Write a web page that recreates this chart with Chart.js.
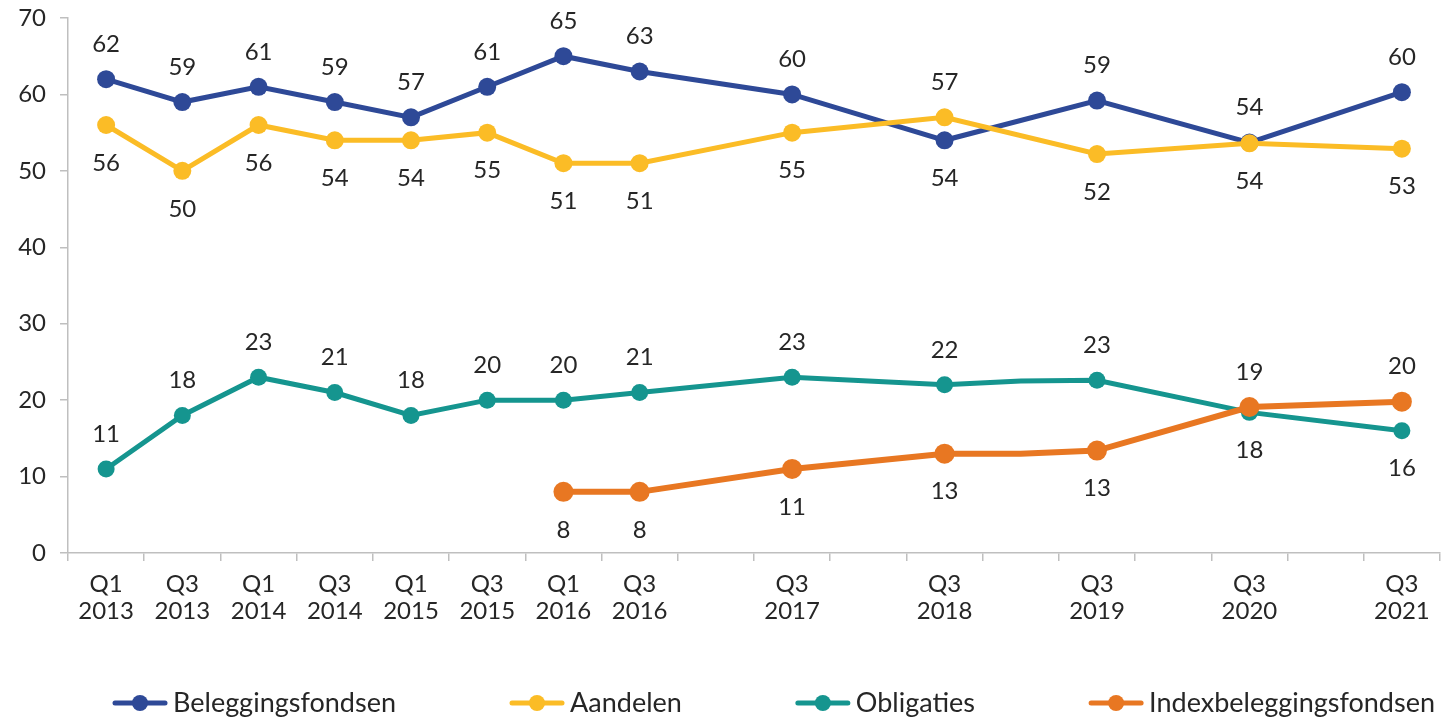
<!DOCTYPE html>
<html>
<head>
<meta charset="utf-8">
<script src="https://cdn.jsdelivr.net/npm/chart.js@4.4.0/dist/chart.umd.min.js"></script>
<style>
  html, body { margin: 0; padding: 0; background: #fff; }
  #wrap { width: 1456px; height: 718px; }
</style>
</head>
<body>
<div id="wrap"><canvas id="lineChart"></canvas></div>
<script>
// categorieën (lege plekken = tussenliggende kwartalen zonder label)
const categories = [
  ['Q1', '2013'], ['Q3', '2013'], ['Q1', '2014'], ['Q3', '2014'], ['Q1', '2015'], ['Q3', '2015'],
  ['Q1', '2016'], ['Q3', '2016'], '', ['Q3', '2017'], '', ['Q3', '2018'], '', ['Q3', '2019'],
  '', ['Q3', '2020'], '', ['Q3', '2021']
];
const beleggingsfondsen = [62, 59, 61, 59, 57, 61, 65, 63, null, 60, null, 54, null, 59.2, null, 53.7, null, 60.3];
const aandelen          = [56, 50, 56, 54, 54, 55, 51, 51, null, 55, null, 57, null, 52.2, null, 53.6, null, 52.9];
const obligaties        = [11, 18, 23, 21, 18, 20, 20, 21, null, 23, null, 22, 22.5, 22.6, null, 18.4, null, 16.0];
const indexfondsen      = [null, null, null, null, null, null, 8, 8, null, 11, null, 13, 13.0, 13.4, null, 19.1, null, 19.8];
const yTicks = [0, 10, 20, 30, 40, 50, 60, 70];

const textColor = '#262626';
const axisColor = '#BFBFBF';
const fontFamily = 'Lato, "Open Sans", sans-serif';

Chart.defaults.font.family = fontFamily;
Chart.defaults.font.size = 24;
Chart.defaults.color = textColor;

function radiusFor(r) {
  return ctx => (categories[ctx.dataIndex] === '' ? 0 : r);
}

function series(label, data, color, r, width, order) {
  return {
    label: label,
    data: data,
    borderColor: color,
    backgroundColor: color,
    borderWidth: width,
    pointRadius: radiusFor(r),
    pointHoverRadius: radiusFor(r),
    pointBorderWidth: 0,
    tension: 0,
    spanGaps: true,
    order: order
  };
}

// waarden bij de punten, boven of onder afhankelijk van de buurlijn
const pointLabels = {
  id: 'pointLabels',
  afterDatasetsDraw(chart) {
    const ctx = chart.ctx;
    const sets = chart.data.datasets;
    ctx.save();
    ctx.font = '24px ' + fontFamily;
    ctx.fillStyle = textColor;
    ctx.textAlign = 'center';
    ctx.textBaseline = 'middle';
    sets.forEach((ds, di) => {
      const meta = chart.getDatasetMeta(di);
      meta.data.forEach((pt, i) => {
        const v = ds.data[i];
        if (v === null || categories[i] === '') return;
        const near = sets
          .filter((d, k) => k !== di && d.data[i] !== null && Math.abs(d.data[i] - v) < 15)
          .map(d => d.data[i]);
        const above = near.every(w => v >= w);
        ctx.fillText(String(Math.round(v)), pt.x, pt.y + (above ? -35 : 38));
      });
    });
    ctx.restore();
  }
};

// legenda onderaan: lijn met bolletje, gelijk verdeeld
const lineLegend = {
  id: 'lineLegend',
  afterDraw(chart) {
    const ctx = chart.ctx;
    const left = 115, right = 1435, y = 703, glyph = 50, gap = 8;
    ctx.save();
    ctx.font = '27px ' + fontFamily;
    ctx.textBaseline = 'middle';
    ctx.textAlign = 'left';
    const items = chart.data.datasets.map(ds => ({
      ds: ds,
      w: glyph + gap + ctx.measureText(ds.label).width
    }));
    const total = items.reduce((s, it) => s + it.w, 0);
    const space = (right - left - total) / (items.length - 1);
    let x = left;
    items.forEach(it => {
      ctx.strokeStyle = it.ds.borderColor;
      ctx.lineWidth = 5;
      ctx.lineCap = 'round';
      ctx.beginPath();
      ctx.moveTo(x, y);
      ctx.lineTo(x + glyph, y);
      ctx.stroke();
      ctx.fillStyle = it.ds.borderColor;
      ctx.beginPath();
      ctx.arc(x + glyph / 2, y, 8, 0, Math.PI * 2);
      ctx.fill();
      ctx.fillStyle = textColor;
      ctx.fillText(it.ds.label, x + glyph + gap, y);
      x += it.w + space;
    });
    ctx.restore();
  }
};

const ctx = document.getElementById('lineChart').getContext('2d');
const lineChart = new Chart(ctx, {
  type: 'line',
  data: {
    labels: categories,
    datasets: [
      series('Beleggingsfondsen', beleggingsfondsen, '#2E4997', 9, 5, 4),
      series('Aandelen', aandelen, '#FBBC26', 9, 5, 3),
      series('Obligaties', obligaties, '#15958F', 8.5, 5, 2),
      series('Indexbeleggingsfondsen', indexfondsen, '#E87722', 10, 6, 1)
    ]
  },
  options: {
    responsive: true,
    maintainAspectRatio: false,
    animation: false,
    layout: { padding: { top: 18, right: 16, bottom: 0, left: 0 } },
    scales: {
      x: {
        offset: true,
        afterFit: scale => { scale.height = 165; },
        grid: {
          offset: true,
          drawOnChartArea: false,
          tickLength: 8,
          color: axisColor,
          lineWidth: 1.5
        },
        border: { color: axisColor, width: 1.5 },
        ticks: {
          autoSkip: false,
          maxRotation: 0,
          padding: 9,
          font: { size: 24, lineHeight: 1.15 },
          color: textColor
        }
      },
      y: {
        min: 0,
        max: 70,
        afterFit: scale => {
          scale.width = 68;
          scale.paddingTop = 0;
          scale.paddingBottom = 0;
        },
        afterBuildTicks: scale => { scale.ticks = yTicks.map(v => ({ value: v })); },
        grid: {
          drawOnChartArea: false,
          tickLength: 8,
          color: axisColor,
          lineWidth: 1.5
        },
        border: { color: axisColor, width: 1.5 },
        ticks: { padding: 14, font: { size: 24 }, color: textColor }
      }
    },
    plugins: {
      legend: { display: false },
      tooltip: { enabled: false }
    }
  },
  plugins: [pointLabels, lineLegend]
});
</script>
</body>
</html>
